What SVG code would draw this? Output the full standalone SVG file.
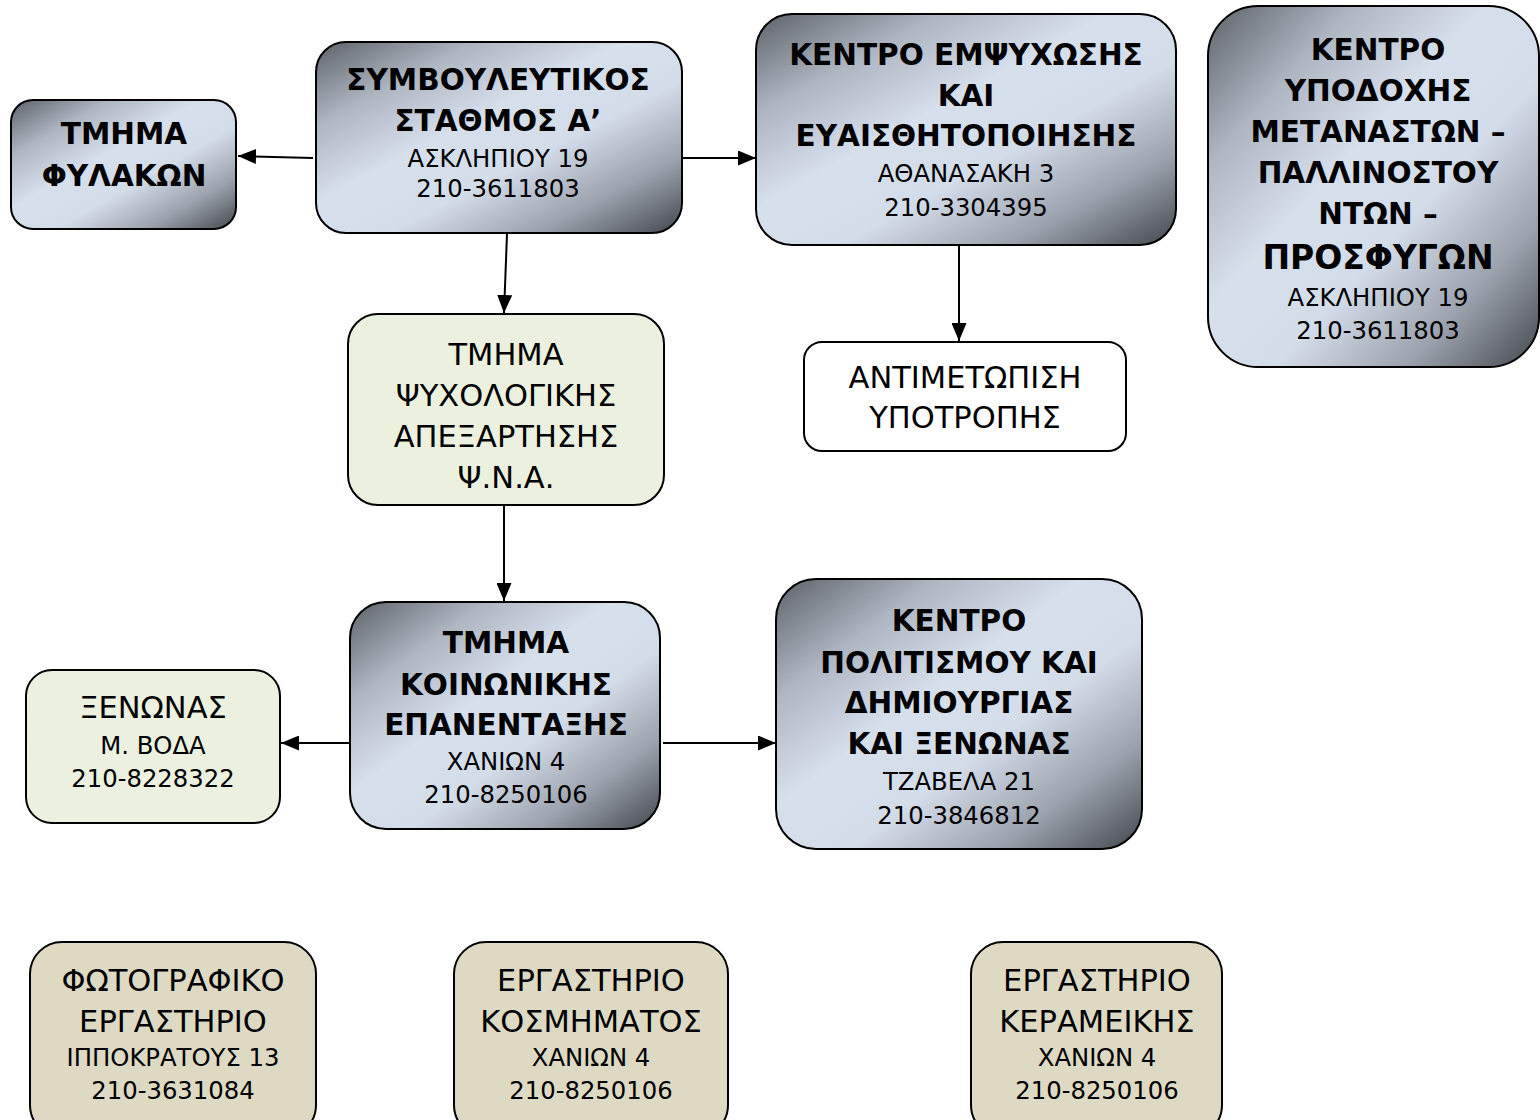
<svg xmlns="http://www.w3.org/2000/svg" width="1540" height="1120" viewBox="0 0 1540 1120">
<defs>
<linearGradient id="metal" x1="0" y1="0" x2="1" y2="1">
<stop offset="0" stop-color="#5d6168"/>
<stop offset="0.22" stop-color="#aeb6c2"/>
<stop offset="0.42" stop-color="#d6dfec"/>
<stop offset="0.6" stop-color="#d3dce9"/>
<stop offset="0.8" stop-color="#9ba2ad"/>
<stop offset="1" stop-color="#43464c"/>
</linearGradient>
<marker id="arr" viewBox="0 0 18 15" refX="18" refY="7.5" markerWidth="18" markerHeight="15" markerUnits="userSpaceOnUse" orient="auto">
<path d="M0,0 L18,7.5 L0,15 Z" fill="#000"/>
</marker>
</defs>
<style>
.box{stroke:#000;stroke-width:2}
.m{fill:url(#metal)}
.g{fill:#ebf1de}
.w{fill:#fff}
.t{fill:#ddd9c3}
text{font-family:"DejaVu Sans",Verdana,sans-serif;fill:#000;text-anchor:middle;dominant-baseline:central}
.b{font-weight:bold;font-size:29.5px}
.n{font-size:30.5px}
.s{font-size:24.3px}
.c{stroke:#000;stroke-width:2;fill:none;marker-end:url(#arr)}
</style>
<rect width="1540" height="1120" fill="#fff"/>
<g id="connectors">
<line class="c" x1="313" y1="158" x2="238" y2="156"/>
<line class="c" x1="682" y1="158" x2="756" y2="158"/>
<line class="c" x1="507" y1="234" x2="504" y2="313"/>
<line class="c" x1="959" y1="245" x2="959" y2="341"/>
<line class="c" x1="504" y1="505" x2="504" y2="601"/>
<line class="c" x1="350" y1="743" x2="281" y2="743"/>
<line class="c" x1="663" y1="743" x2="776" y2="743"/>
</g>
<g id="n-fylakon">
<rect class="box m" x="11" y="100" width="225" height="129" rx="22"/>
<text class="b" x="124" y="134">ΤΜΗΜΑ</text>
<text class="b" x="124" y="176">ΦΥΛΑΚΩΝ</text>
</g>
<g id="n-symvouleutikos">
<rect class="box m" x="316" y="42" width="366" height="191" rx="30"/>
<text class="b" x="498" y="80">ΣΥΜΒΟΥΛΕΥΤΙΚΟΣ</text>
<text class="b" x="498" y="121">ΣΤΑΘΜΟΣ Α’</text>
<text class="s" x="498" y="158">ΑΣΚΛΗΠΙΟΥ 19</text>
<text class="s" x="498" y="188">210-3611803</text>
</g>
<g id="n-empsychosis">
<rect class="box m" x="756" y="14" width="420" height="231" rx="36"/>
<text class="b" x="966" y="55">ΚΕΝΤΡΟ ΕΜΨΥΧΩΣΗΣ</text>
<text class="b" x="966" y="96">ΚΑΙ</text>
<text class="b" x="966" y="136">ΕΥΑΙΣΘΗΤΟΠΟΙΗΣΗΣ</text>
<text class="s" x="966" y="173">ΑΘΑΝΑΣΑΚΗ 3</text>
<text class="s" x="966" y="207">210-3304395</text>
</g>
<g id="n-ypodochis">
<rect class="box m" x="1208" y="6" width="331" height="361" rx="50"/>
<text class="b" x="1378" y="50">ΚΕΝΤΡΟ</text>
<text class="b" x="1378" y="91">ΥΠΟΔΟΧΗΣ</text>
<text class="b" x="1378" y="132">ΜΕΤΑΝΑΣΤΩΝ –</text>
<text class="b" x="1378" y="173">ΠΑΛΛΙΝΟΣΤΟΥ</text>
<text class="b" x="1378" y="214">ΝΤΩΝ –</text>
<text class="b" x="1378" y="257" style="font-size:33px">ΠΡΟΣΦΥΓΩΝ</text>
<text class="s" x="1378" y="297">ΑΣΚΛΗΠΙΟΥ 19</text>
<text class="s" x="1378" y="330">210-3611803</text>
</g>
<g id="n-psychologikis">
<rect class="box g" x="348" y="314" width="316" height="191" rx="30"/>
<text class="n" x="506" y="354">ΤΜΗΜΑ</text>
<text class="n" x="506" y="395">ΨΥΧΟΛΟΓΙΚΗΣ</text>
<text class="n" x="506" y="436">ΑΠΕΞΑΡΤΗΣΗΣ</text>
<text class="n" x="506" y="477">Ψ.Ν.Α.</text>
</g>
<g id="n-antimetopisi">
<rect class="box w" x="804" y="342" width="322" height="109" rx="18"/>
<text class="n" x="965" y="377">ΑΝΤΙΜΕΤΩΠΙΣΗ</text>
<text class="n" x="965" y="417">ΥΠΟΤΡΟΠΗΣ</text>
</g>
<g id="n-koinonikis">
<rect class="box m" x="350" y="602" width="310" height="227" rx="36"/>
<text class="b" x="506" y="643">ΤΜΗΜΑ</text>
<text class="b" x="506" y="685">ΚΟΙΝΩΝΙΚΗΣ</text>
<text class="b" x="506" y="725">ΕΠΑΝΕΝΤΑΞΗΣ</text>
<text class="s" x="506" y="761">ΧΑΝΙΩΝ 4</text>
<text class="s" x="506" y="794">210-8250106</text>
</g>
<g id="n-xenonas">
<rect class="box g" x="26" y="670" width="254" height="153" rx="26"/>
<text class="n" x="153" y="707">ΞΕΝΩΝΑΣ</text>
<text class="s" x="153" y="745">Μ. ΒΟΔΑ</text>
<text class="s" x="153" y="778">210-8228322</text>
</g>
<g id="n-politismou">
<rect class="box m" x="776" y="579" width="366" height="270" rx="40"/>
<text class="b" x="959" y="621">ΚΕΝΤΡΟ</text>
<text class="b" x="959" y="663">ΠΟΛΙΤΙΣΜΟΥ ΚΑΙ</text>
<text class="b" x="959" y="703">ΔΗΜΙΟΥΡΓΙΑΣ</text>
<text class="b" x="959" y="744">ΚΑΙ ΞΕΝΩΝΑΣ</text>
<text class="s" x="959" y="781">ΤΖΑΒΕΛΑ 21</text>
<text class="s" x="959" y="815">210-3846812</text>
</g>
<g id="n-fotografiko">
<rect class="box t" x="30" y="942" width="286" height="195" rx="32"/>
<text class="n" x="173" y="980">ΦΩΤΟΓΡΑΦΙΚΟ</text>
<text class="n" x="173" y="1021">ΕΡΓΑΣΤΗΡΙΟ</text>
<text class="s" x="173" y="1057">ΙΠΠΟΚΡΑΤΟΥΣ 13</text>
<text class="s" x="173" y="1090">210-3631084</text>
</g>
<g id="n-kosmimatos">
<rect class="box t" x="454" y="942" width="274" height="195" rx="32"/>
<text class="n" x="591" y="980">ΕΡΓΑΣΤΗΡΙΟ</text>
<text class="n" x="591" y="1021">ΚΟΣΜΗΜΑΤΟΣ</text>
<text class="s" x="591" y="1057">ΧΑΝΙΩΝ 4</text>
<text class="s" x="591" y="1090">210-8250106</text>
</g>
<g id="n-kerameikis">
<rect class="box t" x="971" y="942" width="251" height="195" rx="32"/>
<text class="n" x="1097" y="980">ΕΡΓΑΣΤΗΡΙΟ</text>
<text class="n" x="1097" y="1021">ΚΕΡΑΜΕΙΚΗΣ</text>
<text class="s" x="1097" y="1057">ΧΑΝΙΩΝ 4</text>
<text class="s" x="1097" y="1090">210-8250106</text>
</g>
</svg>
